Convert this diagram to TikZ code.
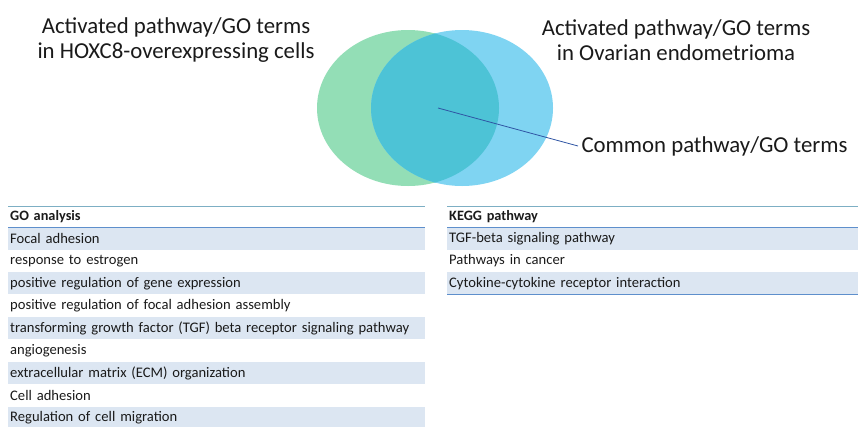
\documentclass[tikz,border=0pt]{standalone}
\usepackage{fontspec}
\setmainfont{Carlito}
\usetikzlibrary{positioning}
\definecolor{vennGreen}{HTML}{93DEB6}
\definecolor{vennBlue}{HTML}{7FD4F2}
\definecolor{vennCommon}{HTML}{4DC3D6}
\definecolor{pointerLine}{HTML}{2F55A4}
\definecolor{ruleTop}{HTML}{7DAFC4}
\definecolor{ruleHead}{HTML}{5E8FCC}
\definecolor{rowShade}{HTML}{DCE6F2}
\definecolor{textMain}{HTML}{1A1A1A}
\tikzset{
  setlabel/.style={font=\fontsize{22.8}{25.5}\selectfont, text=textMain, align=center},
  headrow/.style={font=\fontsize{14.3}{16}\selectfont\bfseries, text=textMain,
    text width=#1, align=left, minimum height=21pt, inner xsep=2pt, inner ysep=0pt,
    anchor=north west},
  plainrow/.style={font=\fontsize{14.6}{16}\selectfont, text=textMain,
    text width=#1, align=left, minimum height=22pt, inner xsep=2pt, inner ysep=0pt},
  shaderow/.style={plainrow=#1, fill=rowShade},
  toprule/.style={draw=ruleTop, line width=1pt},
  headrule/.style={draw=ruleHead, line width=1.1pt},
}

\begin{document}
\begin{tikzpicture}[x=1pt, y=1pt]

  \useasboundingbox (0,0) rectangle (858,-426);

  % === Venn diagram ===
  \fill[vennGreen] (408,-108) ellipse [x radius=91pt, y radius=78pt];
  \fill[vennBlue] (462,-108) ellipse [x radius=91pt, y radius=78pt];
  \begin{scope}
    \clip (408,-108) ellipse [x radius=91pt, y radius=78pt];
    \fill[vennCommon] (462,-108) ellipse [x radius=91pt, y radius=78pt];
  \end{scope}

  \coordinate (core) at (438,-108);

  % === Set labels ===
  \node[setlabel] (hoxc8) at (176,-40) {Activated pathway/GO terms\\in HOXC8-overexpressing cells};
  \node[setlabel] (endo) at (676,-40) {Activated pathway/GO terms\\in Ovarian endometrioma};
  \node[setlabel, anchor=west] (common) at (578,-146) {Common pathway/GO terms};

  \draw[pointerLine, line width=0.8pt] (core) -- (common.west);

  % === GO analysis table ===
  \node[headrow=413pt] (gohead) at (8,-206) {GO analysis};
  \node[shaderow=413pt, below=0pt of gohead] (go1) {Focal adhesion};
  \node[plainrow=413pt, below=0pt of go1] (go2) {response to estrogen};
  \node[shaderow=413pt, below=0pt of go2] (go3) {positive regulation of gene expression};
  \node[plainrow=413pt, below=0pt of go3] (go4) {positive regulation of focal adhesion assembly};
  \node[shaderow=413pt, below=0pt of go4] (go5) {transforming growth factor (TGF) beta receptor signaling pathway};
  \node[plainrow=413pt, below=0pt of go5] (go6) {angiogenesis};
  \node[shaderow=413pt, below=0pt of go6] (go7) {extracellular matrix (ECM) organization};
  \node[plainrow=413pt, below=0pt of go7] (go8) {Cell adhesion};
  \node[shaderow=413pt, below=0pt of go8] (go9) {Regulation of cell migration};

  \draw[toprule] (gohead.north west) -- (gohead.north east);
  \draw[headrule] (gohead.south west) -- (gohead.south east);
  \draw[headrule] (go9.south west) -- (go9.south east);

  % === KEGG pathway table ===
  \node[headrow=407pt] (kegghead) at (447,-206) {KEGG pathway};
  \node[shaderow=407pt, below=0pt of kegghead] (kegg1) {TGF-beta signaling pathway};
  \node[plainrow=407pt, below=0pt of kegg1] (kegg2) {Pathways in cancer};
  \node[shaderow=407pt, below=0pt of kegg2] (kegg3) {Cytokine-cytokine receptor interaction};

  \draw[toprule] (kegghead.north west) -- (kegghead.north east);
  \draw[headrule] (kegghead.south west) -- (kegghead.south east);
  \draw[headrule] (kegg3.south west) -- (kegg3.south east);

\end{tikzpicture}
\end{document}
